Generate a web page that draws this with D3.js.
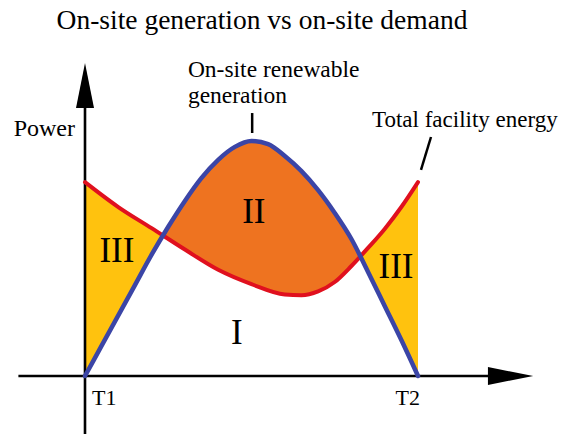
<!DOCTYPE html>
<html>
<head>
<meta charset="utf-8">
<script src="https://cdn.jsdelivr.net/npm/d3@7"></script>
<style>
  html, body { margin: 0; padding: 0; background: #fff; }
  svg { display: block; }
</style>
</head>
<body>
<svg id="chart" width="568" height="434"></svg>
<script>
// ---- data (time in arbitrary units T1=0 .. T2=10, power in arbitrary units) ----
const genTime = [0, 0.5, 1, 1.5, 2, 2.5, 3, 3.5, 4, 4.5, 5, 5.5, 6, 6.5, 7, 7.5, 8, 8.5, 9, 9.5, 10];
const generation = [0, 1.29, 2.58, 3.87, 5.16, 6.35, 7.45, 8.43, 9.2, 9.75, 10.0, 9.87, 9.36, 8.72, 7.91, 6.94, 5.83, 4.43, 2.98, 1.53, 0];

const demandTime = [0, 1, 2, 3, 4, 5, 6, 6.5, 7, 7.5, 8, 8.5, 9, 9.5, 10];
const demand = [8.25, 7.19, 6.29, 5.38, 4.52, 3.91, 3.47, 3.44, 3.60, 4.0, 4.68, 5.45, 6.26, 7.19, 8.25];

const tickValues = [0, 10];
const tickLabels = ["T1", "T2"];

const regionLabels = ["III", "II", "III", "I"];
const regionT = [0.96, 5.07, 9.34, 4.56];
const regionP = [4.85, 6.51, 4.17, 1.36];

const titleText = "On-site generation vs on-site demand";
const yLabel = "Power";
const genLabel = ["On-site renewable", "generation"];
const demandLabel = "Total facility energy";

// ---- layout ----
const W = 568, H = 434;
const FONT = "'Times New Roman', 'Liberation Serif', 'DejaVu Serif', serif";
const svg = d3.select("#chart").attr("font-family", FONT);

const x = d3.scaleLinear().domain([0, 10]).range([85, 418]);
const y = d3.scaleLinear().domain([0, 10]).range([376, 141]);

const colors = {
  yellow: "#FFC20E",
  orange: "#EE7320",
  red: "#E0101E",
  blue: "#3B45A6"
};

const curve = d3.curveMonotoneX;
const genData = genTime.map((t, i) => ({ t, p: generation[i] }));
const demData = demandTime.map((t, i) => ({ t, p: demand[i] }));

const defs = svg.append("defs");
const topP = 16;

defs.append("clipPath").attr("id", "aboveGen")
  .append("path")
  .attr("d", d3.area().curve(curve).x(d => x(d.t)).y0(y(topP)).y1(d => y(d.p))(genData));
defs.append("clipPath").attr("id", "aboveDem")
  .append("path")
  .attr("d", d3.area().curve(curve).x(d => x(d.t)).y0(y(topP)).y1(d => y(d.p))(demData));

// yellow: under demand, above generation
svg.append("path")
  .attr("d", d3.area().curve(curve).x(d => x(d.t)).y0(y(0)).y1(d => y(d.p))(demData))
  .attr("fill", colors.yellow)
  .attr("clip-path", "url(#aboveGen)");

// orange: under generation, above demand
svg.append("path")
  .attr("d", d3.area().curve(curve).x(d => x(d.t)).y0(y(0)).y1(d => y(d.p))(genData))
  .attr("fill", colors.orange)
  .attr("clip-path", "url(#aboveDem)");

// ---- axes ----
const axisG = svg.append("g");
const xStart = -2.0, xTip = 13.46, xArrowBase = 12.1;
const yStart = -2.6, yTip = 13.32, yArrowBase = 11.4;
const arrowHalf = 9;

axisG.append("line")
  .attr("x1", x(xStart)).attr("x2", x(xArrowBase) + 2)
  .attr("y1", y(0)).attr("y2", y(0))
  .attr("stroke", "#000").attr("stroke-width", 2.6);
axisG.append("path")
  .attr("d", `M${x(xTip)},${y(0)} L${x(xArrowBase)},${y(0) - arrowHalf} L${x(xArrowBase)},${y(0) + arrowHalf} Z`)
  .attr("fill", "#000");

axisG.append("line")
  .attr("x1", x(0)).attr("x2", x(0))
  .attr("y1", y(yStart)).attr("y2", y(yArrowBase) - 2)
  .attr("stroke", "#000").attr("stroke-width", 2.6);
axisG.append("path")
  .attr("d", `M${x(0)},${y(yTip)} L${x(0) - arrowHalf},${y(yArrowBase)} L${x(0) + arrowHalf},${y(yArrowBase)} Z`)
  .attr("fill", "#000");

// tick labels
svg.append("g").selectAll("text")
  .data(tickValues)
  .join("text")
  .attr("x", (d, i) => i === 0 ? x(d) + 7 : x(d) + 2)
  .attr("y", y(-1.23))
  .attr("text-anchor", (d, i) => i === 0 ? "start" : "end")
  .attr("font-size", 22)
  .text((d, i) => tickLabels[i]);

// ---- lines ----
svg.append("path")
  .attr("d", d3.line().curve(curve).x(d => x(d.t)).y(d => y(d.p))(demData))
  .attr("fill", "none").attr("stroke", colors.red).attr("stroke-width", 4)
  .attr("stroke-linecap", "round");

svg.append("path")
  .attr("d", d3.line().curve(curve).x(d => x(d.t)).y(d => y(d.p))(genData))
  .attr("fill", "none").attr("stroke", colors.blue).attr("stroke-width", 4.5)
  .attr("stroke-linecap", "round");

// ---- region labels ----
svg.append("g").selectAll("text")
  .data(regionLabels)
  .join("text")
  .attr("x", (d, i) => x(regionT[i]))
  .attr("y", (d, i) => y(regionP[i]))
  .attr("text-anchor", "middle")
  .attr("font-size", 35)
  .text(d => d);

// ---- title & labels ----
svg.append("text")
  .attr("x", 262).attr("y", 29)
  .attr("text-anchor", "middle")
  .attr("font-size", 27.5)
  .text(titleText);

svg.append("text")
  .attr("x", x(-0.3)).attr("y", y(10.21))
  .attr("text-anchor", "end")
  .attr("font-size", 24)
  .text(yLabel);

svg.append("g").selectAll("text")
  .data(genLabel)
  .join("text")
  .attr("x", x(3.09))
  .attr("y", (d, i) => y(12.72 - i * 1.12))
  .attr("font-size", 23.5)
  .text(d => d);

svg.append("line")
  .attr("x1", x(5.02)).attr("x2", x(5.02))
  .attr("y1", y(11.19)).attr("y2", y(10.34))
  .attr("stroke", "#000").attr("stroke-width", 2.5);

svg.append("text")
  .attr("x", x(8.62)).attr("y", y(10.6))
  .attr("font-size", 23)
  .text(demandLabel);

svg.append("line")
  .attr("x1", x(10.39)).attr("y1", y(10.17))
  .attr("x2", x(10.09)).attr("y2", y(8.77))
  .attr("stroke", "#000").attr("stroke-width", 2.5);
</script>
</body>
</html>
